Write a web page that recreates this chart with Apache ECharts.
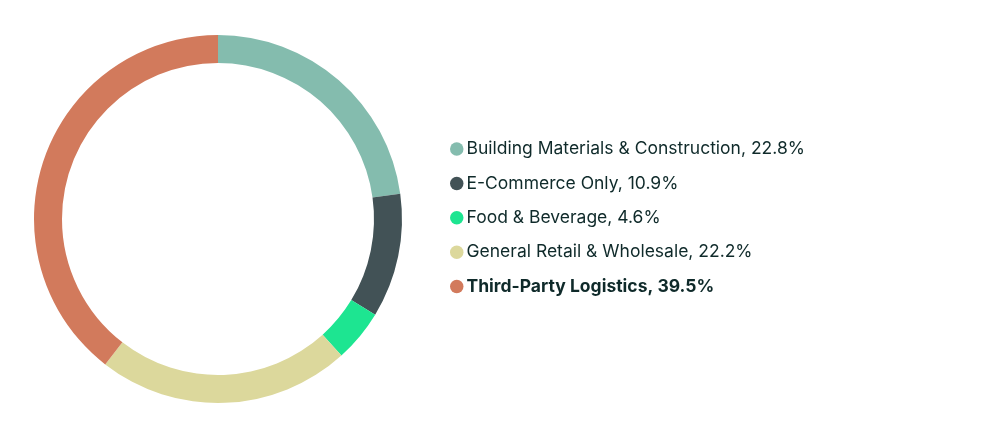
<!DOCTYPE html>
<html><head><meta charset="utf-8">
<script src="https://cdn.jsdelivr.net/npm/echarts@6/dist/echarts.min.js"></script>
<style>html,body{margin:0;padding:0;background:#fff}#c{width:1000px;height:435px}</style>
</head><body><div id="c"></div>
<script>
const categories = ['Building Materials & Construction', 'E-Commerce Only', 'Food & Beverage', 'General Retail & Wholesale', 'Third-Party Logistics'];
const values = [22.8, 10.9, 4.6, 22.2, 39.5];
const colors = ['#84BCAE', '#425256', '#1DE591', '#DCD89C', '#D27A5C'];
const boldItem = 'Third-Party Logistics';

const chart = echarts.init(document.getElementById('c'));
chart.setOption({
  animation: false,
  color: colors,
  legend: {
    orient: 'vertical',
    left: 445,
    top: 135,
    icon: 'circle',
    itemWidth: 13.5,
    itemHeight: 13.5,
    itemGap: 16.4,
    formatter: function (name) {
      const v = values[categories.indexOf(name)].toFixed(1) + '%';
      return name === boldItem ? '{b|' + name + ', ' + v + '}' : '{n|' + name + ', ' + v + '}';
    },
    textStyle: {
      fontFamily: 'Inter',
      fontSize: 17.5,
      color: '#0F2A2A',
      padding: [0, 0, 0, -2],
      rich: {
        n: { fontFamily: 'Inter', fontSize: 17.5, lineHeight: 18, color: '#0F2A2A', fontWeight: 'normal' },
        b: { fontFamily: 'Inter', fontSize: 17.5, lineHeight: 18, color: '#0F2A2A', fontWeight: 'bold' }
      }
    },
    data: categories
  },
  series: [{
    type: 'pie',
    center: [218, 219],
    radius: [156, 184],
    startAngle: 90,
    clockwise: true,
    label: { show: false },
    labelLine: { show: false },
    emphasis: { disabled: true },
    itemStyle: { borderWidth: 0 },
    data: categories.map((c, i) => ({ name: c, value: values[i] }))
  }]
});
</script></body></html>
